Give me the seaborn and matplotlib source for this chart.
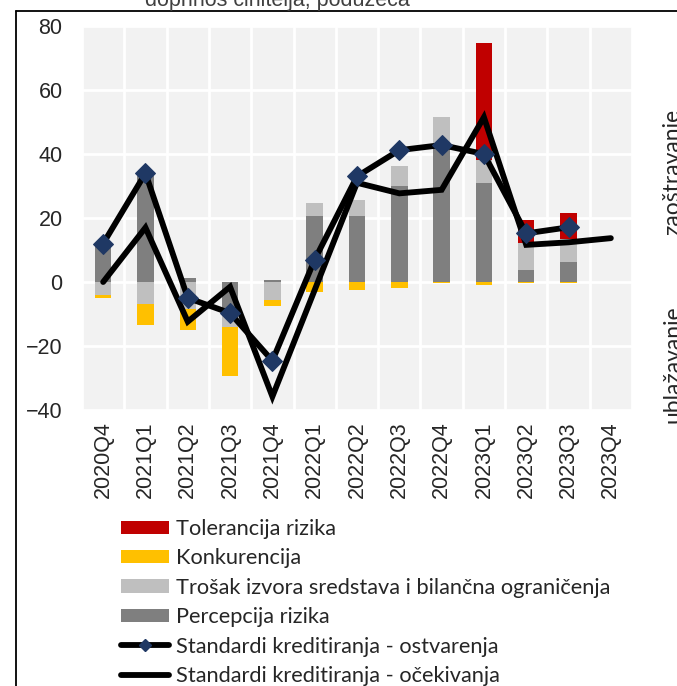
import numpy as np
import matplotlib
matplotlib.use("Agg")
import matplotlib.pyplot as plt
from matplotlib.lines import Line2D
from matplotlib.patches import Patch
import seaborn as sns

# Quarters and contributions of the factors (percentage points)
quarters = ["2020Q4", "2021Q1", "2021Q2", "2021Q3", "2021Q4", "2022Q1", "2022Q2",
            "2022Q3", "2022Q4", "2023Q1", "2023Q2", "2023Q3", "2023Q4"]
percepcija = [12.0, 33.0, 1.3, -8.0, 0.5, 20.6, 20.6, 30.1, 42.3, 30.8, 3.8, 6.3, np.nan]
trosak = [-4.0, -7.0, -8.5, -6.0, -5.5, 4.2, 5.0, 6.1, 9.4, 7.3, 8.3, 7.0, np.nan]
konkurencija = [-1.0, -6.5, -6.5, -15.5, -2.0, -3.0, -2.5, -2.0, -0.3, -0.8, -0.3, -0.3, np.nan]
tolerancija = [0.0, 0.0, 0.0, 0.0, 0.0, 0.0, 0.0, 0.0, 0.0, 36.5, 7.3, 8.4, np.nan]
ostvarenja = [12.0, 34.0, -5.0, -9.7, -24.6, 7.0, 33.0, 41.2, 42.8, 40.0, 15.2, 17.1, np.nan]
ocekivanja = [0.0, 17.0, -12.4, -1.5, -35.8, -2.5, 31.0, 27.7, 28.8, 51.5, 11.6, 12.4, 13.7]

series = [
    ("Percepcija rizika", percepcija, "#7f7f7f"),
    ("Trošak izvora sredstava i bilančna ograničenja", trosak, "#bfbfbf"),
    ("Konkurencija", konkurencija, "#ffc000"),
    ("Tolerancija rizika", tolerancija, "#c00000"),
]

sns.set_theme(style="white")
plt.rcParams["font.family"] = ["Liberation Sans", "DejaVu Sans"]

W, H = 677, 686
fig = plt.figure(figsize=(W / 100, H / 100), dpi=100)
ax = fig.add_axes([82 / W, 1 - 410 / H, 550 / W, 384 / H])
ax.set_facecolor("#f2f2f2")

x = np.arange(len(quarters))
pos_base = np.zeros(len(quarters))
neg_base = np.zeros(len(quarters))
for name, vals, color in series:
    v = np.nan_to_num(np.array(vals, dtype=float))
    bottom = np.where(v >= 0, pos_base, neg_base)
    ax.bar(x, v, width=0.39, bottom=bottom, color=color, linewidth=0, zorder=2)
    pos_base = pos_base + np.where(v >= 0, v, 0)
    neg_base = neg_base + np.where(v < 0, v, 0)

sns.lineplot(x=x, y=ocekivanja, ax=ax, color="black", linewidth=4.2, zorder=3,
             solid_joinstyle="miter")
sns.lineplot(x=x, y=ostvarenja, ax=ax, color="black", linewidth=4.2, zorder=4,
             marker="D", markersize=10, markerfacecolor="#1f3864",
             markeredgecolor="#1f3864")

ax.set_xlim(-0.5, len(quarters) - 0.5)
ax.set_ylim(-40, 80)
ax.set_yticks(range(-40, 81, 20))
ax.set_xticks(x)
ax.set_xticklabels(quarters, rotation=90)
ax.set_xticks(np.arange(-0.5, len(quarters), 1.0), minor=True)
ax.grid(True, axis="y", which="major", color="white", linewidth=2, zorder=1)
ax.grid(True, axis="x", which="minor", color="white", linewidth=2, zorder=1)
ax.grid(False, axis="x", which="major")
ax.set_axisbelow(True)
for s in ax.spines.values():
    s.set_visible(False)
ax.tick_params(axis="both", which="both", length=0)
ax.tick_params(axis="y", labelsize=15.5, pad=14, colors="#262626")
ax.tick_params(axis="x", labelsize=15.5, pad=8, colors="#262626")
ax.set_xlabel("")
ax.set_ylabel("")

# Title line and outer frame
fig.text(277 / W, 1 - 6 / H, "doprinos činitelja, poduzeća", ha="center", va="baseline",
         fontsize=15.5, color="#404040")
fig.add_artist(Line2D([16 / W, 16 / W], [0, 1 - 11 / H], transform=fig.transFigure,
                      color="black", linewidth=1.3))
fig.add_artist(Line2D([16 / W, 1], [1 - 11 / H, 1 - 11 / H], transform=fig.transFigure,
                      color="black", linewidth=1.3))

# Direction labels on the right
side_font = ["Lato", "DejaVu Sans"]
fig.text(673 / W, 1 - 172 / H, "zaoštravanje", rotation=90, ha="center", va="center",
         fontsize=16.5, family=side_font, color="#262626")
fig.text(673 / W, 1 - 364 / H, "ublažavanje", rotation=90, ha="center", va="center",
         fontsize=16.5, family=side_font, color="#262626")

handles = [
    Patch(facecolor="#c00000", edgecolor="none"),
    Patch(facecolor="#ffc000", edgecolor="none"),
    Patch(facecolor="#bfbfbf", edgecolor="none"),
    Patch(facecolor="#7f7f7f", edgecolor="none"),
    Line2D([], [], color="black", linewidth=4.2, marker="D", markersize=6,
           markerfacecolor="#1f3864", markeredgecolor="#1f3864"),
    Line2D([], [], color="black", linewidth=4.2),
]
labels = ["Tolerancija rizika", "Konkurencija",
          "Trošak izvora sredstava i bilančna ograničenja", "Percepcija rizika",
          "Standardi kreditiranja - ostvarenja", "Standardi kreditiranja - očekivanja"]
fig.legend(handles, labels, loc="upper left", bbox_to_anchor=(121 / W, 1 - 519 / H),
           frameon=False, prop={"family": side_font, "size": 15.7},
           handlelength=2.2, handleheight=0.55, handletextpad=0.3, labelspacing=0.43,
           borderpad=0, borderaxespad=0, numpoints=1, labelcolor="#262626")

fig.savefig("out.png", dpi=100)
